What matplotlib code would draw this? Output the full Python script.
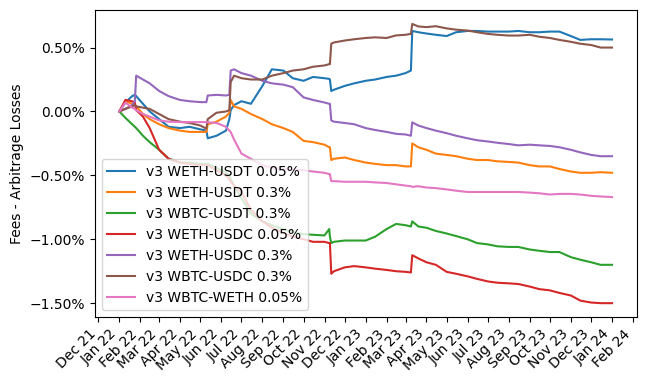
import numpy as np
import pandas as pd
import matplotlib
matplotlib.use("Agg")
import matplotlib.pyplot as plt
import matplotlib.dates as mdates
from matplotlib.ticker import PercentFormatter

# dates of the sampled points (shared by all series)
dates = pd.to_datetime([
    "2022-01-01", "2022-01-10", "2022-01-20", "2022-01-24", "2022-01-26", "2022-02-05",
    "2022-02-15", "2022-03-01", "2022-03-15", "2022-04-01", "2022-04-15", "2022-05-01",
    "2022-05-10", "2022-05-12", "2022-05-25", "2022-06-08", "2022-06-13", "2022-06-15",
    "2022-06-20", "2022-07-01", "2022-07-15", "2022-08-01", "2022-08-15", "2022-09-01",
    "2022-09-15", "2022-10-01", "2022-10-15", "2022-11-01", "2022-11-08", "2022-11-09",
    "2022-11-11", "2022-11-15", "2022-12-01", "2022-12-15", "2023-01-01", "2023-01-15",
    "2023-02-01", "2023-02-15", "2023-03-01", "2023-03-09", "2023-03-11", "2023-03-20",
    "2023-04-01", "2023-04-15", "2023-05-01", "2023-05-15", "2023-06-01", "2023-06-15",
    "2023-07-01", "2023-07-15", "2023-08-01", "2023-08-15", "2023-09-01", "2023-09-15",
    "2023-10-01", "2023-10-15", "2023-11-01", "2023-11-15", "2023-12-01", "2023-12-15",
    "2024-01-01",
])

# values in percent
weth_usdt_005 = [0.0, 0.07, 0.12, 0.13, 0.12, 0.06, 0.0, -0.06, -0.12, -0.13, -0.12, -0.14,
                 -0.15, -0.21, -0.19, -0.15, -0.06, 0.01, 0.05, 0.08, 0.06, 0.20, 0.33, 0.32,
                 0.26, 0.24, 0.27, 0.26, 0.255, 0.25, 0.16, 0.17, 0.20, 0.22, 0.24, 0.25,
                 0.27, 0.28, 0.30, 0.32, 0.63, 0.62, 0.61, 0.60, 0.59, 0.62, 0.63, 0.63,
                 0.625, 0.625, 0.625, 0.63, 0.62, 0.62, 0.625, 0.625, 0.59, 0.56, 0.565, 0.565,
                 0.563]
weth_usdt_03 = [0.0, 0.08, 0.06, 0.05, 0.04, -0.02, -0.06, -0.10, -0.13, -0.15, -0.16, -0.16,
                -0.16, -0.10, -0.08, -0.04, -0.01, 0.09, 0.04, 0.02, -0.02, -0.06, -0.10, -0.13,
                -0.16, -0.23, -0.24, -0.26, -0.28, -0.28, -0.38, -0.37, -0.36, -0.38, -0.40, -0.41,
                -0.42, -0.42, -0.43, -0.43, -0.25, -0.28, -0.30, -0.33, -0.34, -0.35, -0.37, -0.38,
                -0.38, -0.39, -0.395, -0.40, -0.42, -0.43, -0.43, -0.45, -0.47, -0.48, -0.48, -0.475,
                -0.48]
wbtc_usdt_03 = [0.0, -0.05, -0.10, -0.12, -0.13, -0.19, -0.24, -0.30, -0.37, -0.40, -0.40, -0.41,
                -0.41, -0.41, -0.44, -0.48, -0.50, -0.53, -0.58, -0.68, -0.80, -0.86, -0.89, -0.92,
                -0.945, -0.96, -0.965, -0.97, -0.92, -0.98, -1.03, -1.02, -1.01, -1.01, -1.01, -0.98,
                -0.92, -0.88, -0.89, -0.90, -0.86, -0.90, -0.91, -0.935, -0.955, -0.975, -1.0, -1.03,
                -1.04, -1.055, -1.06, -1.06, -1.08, -1.09, -1.10, -1.10, -1.14, -1.16, -1.18, -1.20,
                -1.20]
weth_usdc_005 = [0.0, 0.09, 0.08, 0.07, 0.01, -0.04, -0.13, -0.30, -0.37, -0.40, -0.41, -0.42,
                 -0.42, -0.42, -0.46, -0.50, -0.53, -0.55, -0.58, -0.63, -0.77, -0.86, -0.91, -0.95,
                 -0.98, -1.00, -1.02, -1.02, -1.03, -1.03, -1.27, -1.25, -1.22, -1.21, -1.22, -1.23,
                 -1.24, -1.25, -1.255, -1.26, -1.125, -1.15, -1.18, -1.20, -1.255, -1.27, -1.29, -1.31,
                 -1.33, -1.34, -1.345, -1.35, -1.37, -1.39, -1.40, -1.42, -1.44, -1.48, -1.495, -1.50,
                 -1.50]
weth_usdc_03 = [0.0, 0.02, 0.05, 0.08, 0.28, 0.25, 0.22, 0.16, 0.12, 0.09, 0.08, 0.073,
                0.073, 0.125, 0.13, 0.125, 0.13, 0.32, 0.33, 0.30, 0.28, 0.24, 0.22, 0.21,
                0.19, 0.11, 0.09, 0.07, 0.06, 0.06, -0.07, -0.08, -0.09, -0.10, -0.13, -0.145,
                -0.16, -0.175, -0.18, -0.19, -0.085, -0.11, -0.13, -0.15, -0.17, -0.19, -0.21, -0.225,
                -0.235, -0.245, -0.255, -0.265, -0.26, -0.265, -0.27, -0.28, -0.30, -0.32, -0.34, -0.35,
                -0.35]
wbtc_usdc_03 = [0.0, 0.02, 0.04, 0.05, 0.04, 0.03, 0.02, -0.02, -0.06, -0.08, -0.09, -0.11,
                -0.135, -0.06, -0.01, 0.0, 0.01, 0.23, 0.28, 0.26, 0.25, 0.25, 0.28, 0.30,
                0.32, 0.33, 0.35, 0.36, 0.37, 0.37, 0.53, 0.54, 0.555, 0.565, 0.575, 0.58,
                0.575, 0.595, 0.60, 0.607, 0.685, 0.665, 0.66, 0.667, 0.65, 0.64, 0.633, 0.62,
                0.607, 0.60, 0.594, 0.594, 0.60, 0.585, 0.575, 0.56, 0.545, 0.53, 0.52, 0.50,
                0.50]
wbtc_weth_005 = [0.0, 0.07, 0.03, 0.02, 0.01, -0.02, -0.04, -0.07, -0.08, -0.083, -0.083, -0.083,
                 -0.083, -0.085, -0.09, -0.12, -0.15, -0.16, -0.22, -0.33, -0.37, -0.42, -0.44, -0.45,
                 -0.455, -0.46, -0.47, -0.48, -0.49, -0.49, -0.545, -0.545, -0.55, -0.55, -0.55, -0.555,
                 -0.56, -0.57, -0.58, -0.585, -0.59, -0.585, -0.595, -0.60, -0.61, -0.62, -0.63, -0.63,
                 -0.63, -0.63, -0.63, -0.63, -0.635, -0.64, -0.65, -0.645, -0.645, -0.65, -0.66, -0.665,
                 -0.67]

labels = ["v3 WETH-USDT 0.05%", "v3 WETH-USDT 0.3%", "v3 WBTC-USDT 0.3%",
          "v3 WETH-USDC 0.05%", "v3 WETH-USDC 0.3%", "v3 WBTC-USDC 0.3%",
          "v3 WBTC-WETH 0.05%"]
series = [weth_usdt_005, weth_usdt_03, wbtc_usdt_03, weth_usdc_005,
          weth_usdc_03, wbtc_usdc_03, wbtc_weth_005]

fig, ax = plt.subplots(figsize=(6.53, 3.83), dpi=100)
fig.subplots_adjust(left=0.145, right=0.975, top=0.974, bottom=0.172)

for vals, lab in zip(series, labels):
    ax.plot(dates, vals, label=lab)

ax.xaxis.set_major_locator(mdates.MonthLocator())
ax.xaxis.set_major_formatter(mdates.DateFormatter("%b %y"))
plt.setp(ax.get_xticklabels(), rotation=45, ha="right")
ax.yaxis.set_major_formatter(PercentFormatter(xmax=100, decimals=2))
ax.set_ylabel("Fees - Arbitrage Losses")
ax.legend(loc="lower left")

fig.savefig("out.png", dpi=100)
